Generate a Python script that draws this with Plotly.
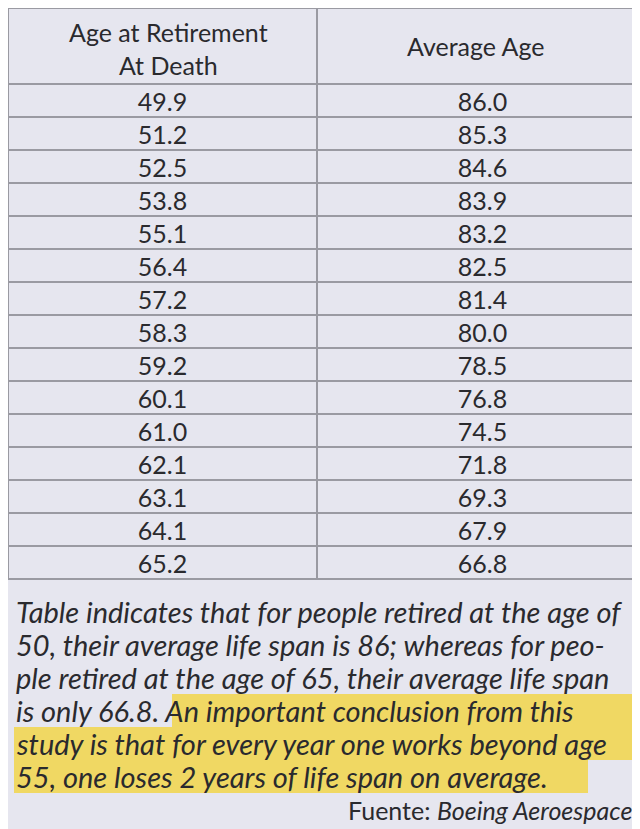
import plotly.graph_objects as go

retire_age = ["49.9","51.2","52.5","53.8","55.1","56.4","57.2","58.3","59.2","60.1","61.0","62.1","63.1","64.1","65.2"]
avg_age = ["86.0","85.3","84.6","83.9","83.2","82.5","81.4","80.0","78.5","76.8","74.5","71.8","69.3","67.9","66.8"]
headers = ["Age at Retirement<br>At Death", "Average Age"]
note_lines = [
    "Table indicates that for people retired at the age of",
    "50, their average life span is 86; whereas for peo-",
    "ple retired at the age of 65, their average life span",
    "is only 66.8. An important conclusion from this",
    "study is that for every year one works beyond age",
    "55, one loses 2 years of life span on average.",
]
source = "Fuente: <i>Boeing Aeroespace</i>"

W, H = 640, 829
bg = "#e6e6ef"
ink = "#2a2a2e"
fig = go.Figure(go.Table(
    domain=dict(x=[0, 1], y=[1 - 578 / H, 1]),
    columnwidth=[309, 331],
    header=dict(values=["", ""], height=76, align="center", fill_color=bg,
                line=dict(color="#9a9aa2", width=1.5),
                font=dict(family="Lato", size=24, color=ink)),
    cells=dict(values=[retire_age, avg_age], height=33, align="center", fill_color=bg,
               line=dict(color="#9a9aa2", width=1.5),
               font=dict(family="Lato", size=25, color=ink)),
))

ys = [603, 636, 669, 702, 735, 768]
hl = [(164, 632, 3), (6, 632, 4), (6, 580, 5)]
shapes = []
for x0, x1, i in hl:
    shapes.append(dict(type="rect", xref="paper", yref="paper", layer="below",
                       x0=x0 / W, x1=x1 / W, y0=1 - (ys[i] + 17) / H, y1=1 - (ys[i] - 16) / H,
                       fillcolor="#f1d54a", line=dict(width=0), opacity=0.85))
anns = [
    dict(text=headers[0], x=160 / W, y=1 - 40 / H, font=dict(family="Lato", size=25, color=ink)),
    dict(text=headers[1], x=468 / W, y=1 - 38 / H, font=dict(family="Lato", size=25, color=ink)),
]
for t, y in zip(note_lines, ys):
    anns.append(dict(text="<i>" + t + "</i>", x=6 / W, y=1 - y / H, xanchor="left",
                     font=dict(family="Lato", size=29, color=ink)))
anns.append(dict(text=source, x=626 / W, y=1 - 802 / H, xanchor="right",
                 font=dict(family="Lato", size=25, color=ink)))
for a in anns:
    a.update(xref="paper", yref="paper", yanchor="middle", showarrow=False)
    a.setdefault("xanchor", "center")

fig.update_layout(width=W, height=H, margin=dict(l=0, r=0, t=0, b=0),
                  paper_bgcolor=bg, plot_bgcolor=bg, shapes=shapes, annotations=anns)
fig.write_html("out.html")
